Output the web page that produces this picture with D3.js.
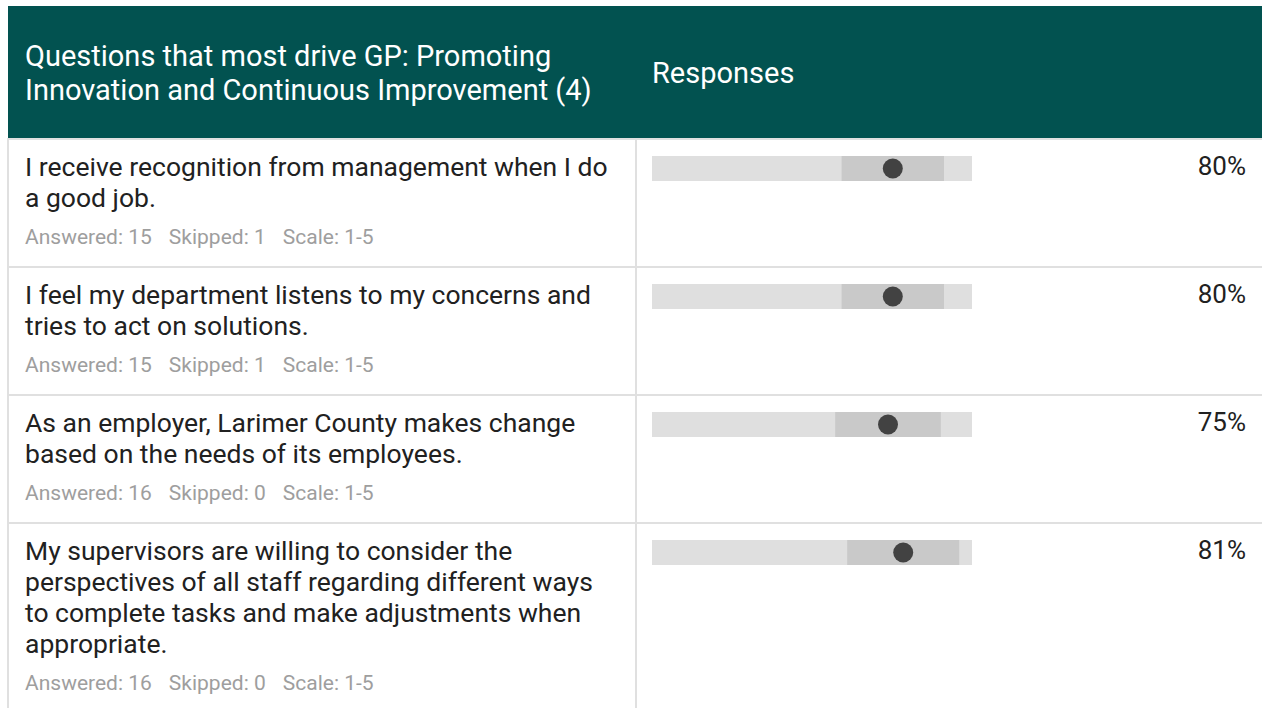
<!DOCTYPE html>
<html>
<head>
<meta charset="utf-8">
<script src="https://cdn.jsdelivr.net/npm/d3@7"></script>
<style>
  html, body { margin: 0; padding: 0; background: #ffffff; }
  svg { display: block; }
  text { font-family: Roboto, "Noto Sans", sans-serif; }
</style>
</head>
<body>
<svg id="chart" width="1262" height="708"></svg>
<script>
// ---------- data ----------
const headerLines = ["Questions that most drive GP: Promoting", "Innovation and Continuous Improvement (4)"];
const responsesLabel = "Responses";
const questionLines = [
  ["I receive recognition from management when I do", "a good job."],
  ["I feel my department listens to my concerns and", "tries to act on solutions."],
  ["As an employer, Larimer County makes change", "based on the needs of its employees."],
  ["My supervisors are willing to consider the", "perspectives of all staff regarding different ways", "to complete tasks and make adjustments when", "appropriate."]
];
const answered = [15, 15, 16, 16];
const skipped = [1, 1, 0, 0];
const scaleLabel = "1-5";
const means = [4.01, 4.01, 3.95, 4.14];
const spreads = [0.64, 0.64, 0.66, 0.70];
const percents = [80, 80, 75, 81];
const scaleDomain = [1, 5];

(function () {
const W = 1262, H = 708;
const svg = d3.select("#chart");
const left = 8, divider = 636;
const headerTop = 6, headerBottom = 138;
const lineH = 31, rowBase = 66;

const x = d3.scaleLinear().domain(scaleDomain).range([652, 972]);

svg.append("rect").attr("x", left).attr("y", headerTop).attr("width", W - left).attr("height", headerBottom - headerTop).attr("fill", "#025250");
svg.append("g").selectAll("text").data(headerLines).join("text")
  .attr("x", 25).attr("y", (d, i) => 66 + i * 33.6)
  .attr("fill", "#ffffff").attr("font-size", 29).text(d => d);
svg.append("text").attr("x", 652).attr("y", 83).attr("fill", "#ffffff").attr("font-size", 29).text(responsesLabel);

const rows = [];
let yCur = headerBottom;
questionLines.forEach((lines, i) => {
  const h = rowBase + lines.length * lineH;
  rows.push({ i, top: yCur, h, lines });
  yCur += h;
});

const g = svg.append("g");
g.append("line").attr("x1", left).attr("x2", left).attr("y1", headerBottom).attr("y2", H).attr("stroke", "#e0e0e0").attr("stroke-width", 2);
g.append("line").attr("x1", divider).attr("x2", divider).attr("y1", headerBottom).attr("y2", H).attr("stroke", "#e0e0e0").attr("stroke-width", 2);
g.selectAll("line.sep").data(rows).join("line").attr("class", "sep")
  .attr("x1", left).attr("x2", W).attr("y1", d => d.top + 1).attr("y2", d => d.top + 1)
  .attr("stroke", "#e0e0e0").attr("stroke-width", 2);

const rg = g.selectAll("g.row").data(rows).join("g").attr("class", "row");
rg.each(function (d) {
  const s = d3.select(this);
  const b1 = d.top + 38;
  s.selectAll("text.q").data(d.lines).join("text").attr("class", "q")
    .attr("x", 25).attr("y", (l, j) => b1 + j * lineH)
    .attr("fill", "#212121").attr("font-size", 26.5).text(l => l);
  const meta = s.append("text").attr("x", 25).attr("y", b1 + (d.lines.length - 1) * lineH + 37)
    .attr("fill", "#9e9e9e").attr("font-size", 21);
  meta.append("tspan").text("Answered: " + answered[d.i]);
  meta.append("tspan").attr("dx", 17).text("Skipped: " + skipped[d.i]);
  meta.append("tspan").attr("dx", 17).text("Scale: " + scaleLabel);

  const by = d.top + 18, bh = 25;
  s.append("rect").attr("x", x(scaleDomain[0])).attr("y", by).attr("width", x(scaleDomain[1]) - x(scaleDomain[0])).attr("height", bh).attr("fill", "#dfdfdf");
  const m = means[d.i], sp = spreads[d.i];
  s.append("rect").attr("x", x(m - sp)).attr("y", by).attr("width", x(m + sp) - x(m - sp)).attr("height", bh).attr("fill", "#c9c9c9");
  s.append("circle").attr("cx", x(m)).attr("cy", by + bh / 2).attr("r", 10).attr("fill", "#424242");
  s.append("text").attr("x", 1246).attr("y", d.top + 37).attr("text-anchor", "end")
    .attr("fill", "#212121").attr("font-size", 26).text(percents[d.i] + "%");
});
})();
</script>
</body>
</html>
